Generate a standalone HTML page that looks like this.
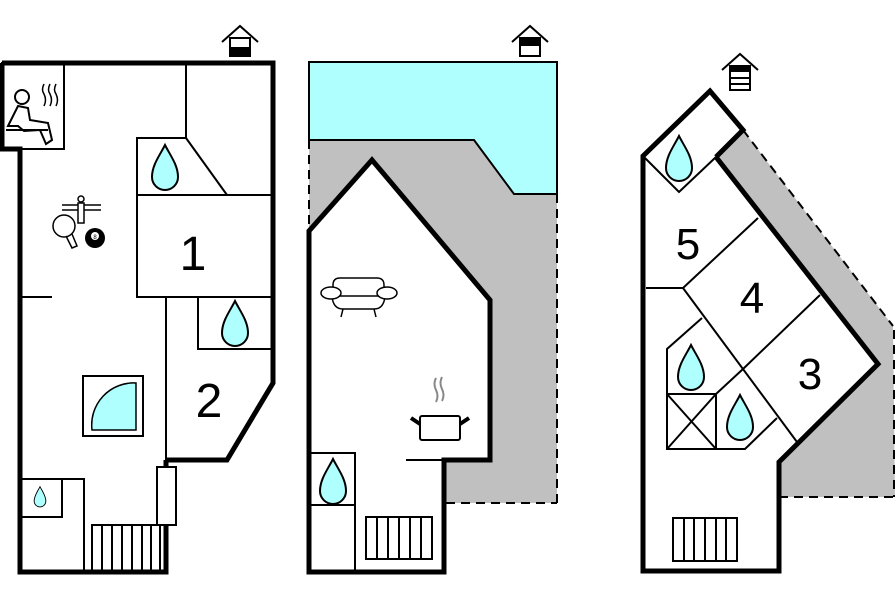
<!DOCTYPE html>
<html><head><meta charset="utf-8"><style>
html,body{margin:0;padding:0;background:#fff;}
svg{display:block;}
text{font-family:"Liberation Sans",sans-serif;}
</style></head><body>
<svg width="896" height="597" viewBox="0 0 896 597" xmlns="http://www.w3.org/2000/svg">
<defs>
<path id="drop" d="M0,-23 C-5,-13 -13,-3 -13,9 A13,13 0 0 0 13,9 C13,-3 5,-13 0,-23Z" fill="#b0ffff" stroke="#000" stroke-width="2"/>
<g id="house">
<path d="M-18,0 L0,-16 L18,0" fill="none" stroke="#000" stroke-width="2"/>
<rect x="-10" y="-4" width="20" height="18" fill="#fff" stroke="#000" stroke-width="2"/>
</g>
</defs>

<!-- ===== PANEL 1 ===== -->
<g fill="none" stroke="#000">
<g stroke-width="2">
<line x1="186" y1="63" x2="186" y2="138"/>
<path d="M137,195 V138 H186"/>
<rect x="137" y="195" width="136" height="102"/>
<line x1="186" y1="138" x2="227" y2="195"/>
<line x1="166" y1="297" x2="166" y2="460"/>
<path d="M198,297 V349 H273"/>
<line x1="20" y1="297" x2="52" y2="297"/>
<rect x="83" y="376" width="60" height="60"/>
<path d="M20,479 H84 V572"/>
<path d="M20,517 H62 V479"/>
<rect x="2" y="63" width="62" height="86"/>
<rect x="157" y="467" width="19" height="58" fill="#fff"/>
<rect x="92" y="525" width="68" height="47"/>
<path d="M102,525V572M112,525V572M122,525V572M132,525V572M142,525V572M151,525V572"/>
</g>
<g stroke-width="5" stroke-linejoin="miter">
<path d="M2,63 H273 V383 L227,460 H166"/>
<path d="M166,460 V468 M166,524 V572 H20 V149 H2 V63"/>
</g>
</g>
<path d="M92,430 A42,42 0 0 1 136,383 V430 Z" fill="#b0ffff" stroke="#000" stroke-width="1.5"/>
<use href="#drop" x="165" y="168"/>
<use href="#drop" x="235" y="324"/>
<g transform="translate(40,497) scale(0.45)"><use href="#drop"/></g>
<text x="193" y="270" font-size="48" text-anchor="middle">1</text>
<text x="209" y="417" font-size="48" text-anchor="middle">2</text>
<g fill="none" stroke="#000" stroke-width="2">
<circle cx="22" cy="97" r="7"/>
<path d="M8,126 L18,106 L28,108 L30,120 L48,123 L52,140 L46,144 L40,130 L24,131 L18,126 Z"/>
<path d="M6,130 H48"/>
<path d="M44,84 q-3,6 0,10 q3,6 0,12 M50,84 q-3,6 0,10 q3,6 0,12 M56,84 q-3,6 0,10 q3,6 0,12" stroke-width="1.5"/>
</g>
<g stroke="#000" stroke-width="1.5" fill="none">
<line x1="62" y1="205" x2="101" y2="205"/>
<line x1="62" y1="210" x2="101" y2="210"/>
<circle cx="81" cy="199" r="3"/>
<rect x="78" y="203" width="6" height="20" fill="#fff"/>
<ellipse cx="64" cy="226" rx="11" ry="11" fill="#fff"/>
<path d="M66,236 L72,248 L77,246 L72,234"/>
</g>
<circle cx="95" cy="238" r="10" fill="#000"/>
<circle cx="95" cy="236" r="4" fill="#fff"/>
<text x="95" y="239" font-size="6" text-anchor="middle">8</text>
<g transform="translate(240,42)"><use href="#house"/><rect x="-10" y="5" width="20" height="9" fill="#000"/></g>

<!-- ===== PANEL 2 ===== -->
<polygon points="309,140 474,140 514,194 557,194 557,503 446,503 446,460 490,460 490,300 372,160 309,231" fill="#c0c0c0"/>
<polygon points="309,62 557,62 557,194 514,194 474,140 309,140" fill="#b0ffff" stroke="#000" stroke-width="2"/>
<g fill="none" stroke="#000" stroke-width="2" stroke-dasharray="9,6">
<line x1="309" y1="140" x2="309" y2="225"/>
<line x1="557" y1="194" x2="557" y2="503"/>
<line x1="446" y1="503" x2="557" y2="503"/>
</g>
<polygon points="309,572 309,231 372,160 490,300 490,460 444,460 444,572" fill="#fff" stroke="#000" stroke-width="5"/>
<g fill="none" stroke="#000" stroke-width="2">
<path d="M311,453 H355 V572"/>
<line x1="311" y1="505" x2="355" y2="505"/>
<line x1="406" y1="460" x2="444" y2="460"/>
<rect x="366" y="517" width="66" height="42"/>
<path d="M377,517V559M388,517V559M399,517V559M410,517V559M421,517V559"/>
</g>
<use href="#drop" x="333" y="482"/>
<g fill="#fff" stroke="#000" stroke-width="1.5">
<path d="M333,296 V285 Q333,278 340,278 H377 Q384,278 384,285 V296"/>
<path d="M332,296 Q333,309 343,309 H374 Q384,309 385,296 Z"/>
<ellipse cx="331" cy="293" rx="10" ry="6"/>
<ellipse cx="387" cy="293" rx="10" ry="6"/>
<path d="M343,309 L341,317 M374,309 L376,317" fill="none"/>
</g>
<g stroke="#000" stroke-width="2" fill="#fff">
<rect x="420" y="416" width="40" height="24" rx="2"/>
<path d="M420,424 L411,418 M460,424 L469,418" stroke-width="4"/>
</g>
<path d="M436,378 q-3,6 0,12 q3,6 0,12 M442,377 q-3,6 0,12 q3,6 0,12" fill="none" stroke="#888" stroke-width="2"/>
<g transform="translate(530,42)"><use href="#house"/><rect x="-10" y="-3" width="20" height="7" fill="#000"/></g>

<!-- ===== PANEL 3 ===== -->
<polygon points="743,130 893,326 895,497 779,497 779,462 878,364 716,157" fill="#c0c0c0"/>
<g fill="none" stroke="#000" stroke-width="2" stroke-dasharray="9,6">
<line x1="743" y1="130" x2="893" y2="326"/>
<line x1="894" y1="330" x2="894" y2="497"/>
<line x1="779" y1="497" x2="894" y2="497"/>
</g>
<polygon points="643,571 643,156 710,91 743,130 716,157 878,364 779,462 779,571" fill="#fff"/>
<g fill="none" stroke="#000" stroke-width="2">
<path d="M643,156 L679,192 L716,157"/>
<path d="M758,218 L683,288 L646,288"/>
<path d="M683,288 L797,442"/>
<path d="M820,295 L743,369 L716,394"/>
<path d="M702,318 L667,349 V449 H745 L777,418"/>
<rect x="667" y="394" width="49" height="55"/>
<path d="M667,394 L716,449 M716,394 L667,449"/>
<rect x="673" y="518" width="64" height="43"/>
<path d="M684,518V561M694,518V561M705,518V561M716,518V561M726,518V561"/>
</g>
<polyline points="716,157 743,130 710,91 643,156 643,571 779,571 779,462 878,364 716,157" fill="none" stroke="#000" stroke-width="5" stroke-linejoin="miter"/>
<use href="#drop" x="679" y="159"/>
<use href="#drop" x="691" y="368"/>
<use href="#drop" x="740" y="418"/>
<text x="688" y="259" font-size="44" text-anchor="middle">5</text>
<text x="752" y="313" font-size="44" text-anchor="middle">4</text>
<text x="810" y="389" font-size="44" text-anchor="middle">3</text>
<g transform="translate(740,70)"><use href="#house"/>
<rect x="-10" y="-4" width="20" height="6" fill="#000"/>
<line x1="-10" y1="8" x2="10" y2="8" stroke="#000" stroke-width="2"/>
<rect x="-10" y="-4" width="20" height="24" fill="none" stroke="#000" stroke-width="2"/></g>
</svg>
</body></html>
